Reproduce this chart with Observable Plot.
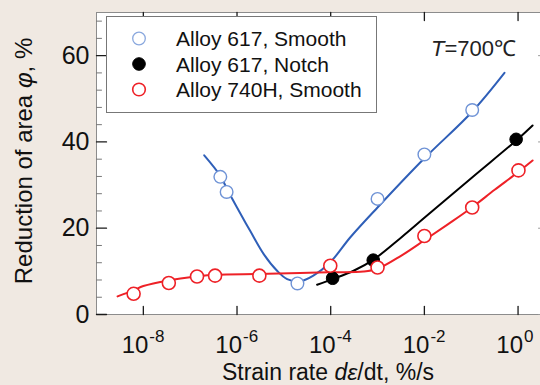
<!DOCTYPE html>
<html>
<head>
<meta charset="utf-8">
<script src="https://cdn.jsdelivr.net/npm/d3@7"></script>
<script src="https://cdn.jsdelivr.net/npm/@observablehq/plot@0.6"></script>
<style>
  html, body { margin: 0; padding: 0; background: #f0e9e2; }
  #wrap { width: 540px; height: 385px; overflow: hidden; position: relative; }
  #wrap svg { display: block; max-width: none !important; }
</style>
</head>
<body>
<div id="wrap"></div>
<script>
// ---------- data (strain rate in %/s, reduction of area in %) ----------
const seriesNames = ["Alloy 617, Smooth", "Alloy 617, Notch", "Alloy 740H, Smooth"];

// measured points
const smooth617Rate = [4.4e-7, 6.0e-7, 1.95e-5, 1e-3, 1e-2, 1.05e-1];
const smooth617RA   = [31.9, 28.4, 7.2, 26.8, 37.1, 47.4];

const notch617Rate = [1.1e-4, 8.1e-4, 0.91];
const notch617RA   = [8.4, 12.6, 40.6];

const smooth740Rate = [6.2e-9, 3.5e-8, 1.4e-7, 3.4e-7, 3.0e-6, 9.8e-5, 1e-3, 1e-2, 1.05e-1, 1.02];
const smooth740RA   = [4.8, 7.3, 8.8, 9.0, 9.0, 11.3, 10.9, 18.2, 24.8, 33.4];

// fitted trend curves (log10 of rate, RA)
const smooth617FitLog = [-6.70, -6.36, -6.20, -6.00, -5.72, -5.43, -5.15, -4.93, -4.65, -4.37, -4.01, -3.58, -3.00, -2.00, -0.98, -0.29];
const smooth617FitRA  = [36.9, 32.2, 28.8, 24.8, 19.4, 14.0, 10.2, 8.2, 7.7, 9.0, 12.1, 17.9, 24.8, 36.2, 47.0, 56.0];

const notch617FitLog = [-4.29, -3.96, -3.50, -3.10, -2.50, -2.00, -1.00, 0.00, 0.31];
const notch617FitRA  = [6.9, 8.2, 10.2, 12.6, 17.8, 22.4, 31.6, 40.7, 43.8];

const smooth740FitLog = [-8.55, -8.21, -8.00, -7.46, -6.86, -6.47, -5.52, -4.65, -4.01, -3.30, -3.00, -2.50, -2.00, -1.50, -1.00, -0.50, 0.00, 0.31];
const smooth740FitRA  = [4.2, 5.6, 6.6, 7.9, 8.8, 9.2, 9.4, 9.6, 9.8, 9.95, 10.6, 13.6, 17.2, 20.9, 24.7, 28.9, 33.0, 35.7];

// axis ticks
const xTickExp = [-8, -6, -4, -2, 0];
const yMajor = [0, 20, 40, 60];
const yMinor = [4, 8, 12, 16, 24, 28, 32, 36, 44, 48, 52, 56, 64, 68];

const colors = { blueLine: "#2f5fb8", blueDot: "#6f93d6", black: "#000000", red: "#ee2127" };

// ---------- build tables ----------
const pts = (xs, ys) => xs.map((x, i) => ({ x, y: ys[i] }));
const fit = (ls, ys) => ls.map((l, i) => ({ x: Math.pow(10, l), y: ys[i] }));

const s617 = pts(smooth617Rate, smooth617RA);
const n617 = pts(notch617Rate, notch617RA);
const s740 = pts(smooth740Rate, smooth740RA);
const s617f = fit(smooth617FitLog, smooth617FitRA);
const n617f = fit(notch617FitLog, notch617FitRA);
const s740f = fit(smooth740FitLog, smooth740FitRA);
const xTicks = xTickExp.map(e => Math.pow(10, e));

const tickShape = { draw(ctx, l) { ctx.moveTo(0, 0); ctx.lineTo(0, -l); } };

const font = "'Liberation Sans', Arial, Helvetica, sans-serif";

const chart = Plot.plot({
  width: 550,
  height: 385,
  marginLeft: 96,
  marginRight: 2,
  marginTop: 12,
  marginBottom: 71,
  style: { background: "transparent", fontFamily: font, overflow: "visible", maxWidth: "none" },
  x: { type: "log", domain: [1e-9, Math.pow(10, 0.65)], axis: null },
  y: { domain: [0, 70], axis: null },
  marks: [
    Plot.frame({ fill: "white", stroke: "#8c8c8c", strokeWidth: 1 }),
    // ticks (inward)
    Plot.vector(yMajor, { y: d => d, frameAnchor: "left", length: 10, rotate: 90, anchor: "start", shape: tickShape, stroke: "#1a1a1a", strokeWidth: 1.3 }),
    Plot.vector(yMinor, { y: d => d, frameAnchor: "left", length: 5, rotate: 90, anchor: "start", shape: tickShape, stroke: "#777", strokeWidth: 1 }),
    Plot.vector(yMajor, { y: d => d, frameAnchor: "right", length: 10, rotate: 270, anchor: "start", shape: tickShape, stroke: "#999", strokeWidth: 1 }),
    Plot.vector(xTicks, { x: d => d, frameAnchor: "bottom", length: 8, rotate: 0, anchor: "start", shape: tickShape, stroke: "#1a1a1a", strokeWidth: 1.3 }),
    Plot.vector(xTicks, { x: d => d, frameAnchor: "top", length: 8, rotate: 180, anchor: "start", shape: tickShape, stroke: "#1a1a1a", strokeWidth: 1.3 }),
    // tick labels
    Plot.text(yMajor, { y: d => d, frameAnchor: "left", dx: -7, text: d => String(d), textAnchor: "end", lineAnchor: "middle", fontSize: 25, fill: "#111" }),
    Plot.text(xTicks, { x: d => d, frameAnchor: "bottom", dx: 5, dy: 38, text: () => "10", textAnchor: "end", lineAnchor: "bottom", fontSize: 24, fill: "#111" }),
    Plot.text(xTickExp, { x: d => Math.pow(10, d), frameAnchor: "bottom", dx: 6, dy: 27, text: d => d === 0 ? "0" : "-" + Math.abs(d), textAnchor: "start", lineAnchor: "bottom", fontSize: 17, fill: "#111" }),
    // fitted lines
    Plot.line(s617f, { x: "x", y: "y", curve: "catmull-rom", stroke: colors.blueLine, strokeWidth: 2 }),
    Plot.line(n617f, { x: "x", y: "y", curve: "catmull-rom", stroke: colors.black, strokeWidth: 2 }),
    Plot.line(s740f, { x: "x", y: "y", curve: "catmull-rom", stroke: colors.red, strokeWidth: 2 }),
    // measured points
    Plot.dot(s617, { x: "x", y: "y", r: 6.3, fill: "white", stroke: colors.blueDot, strokeWidth: 1.4 }),
    Plot.dot(n617, { x: "x", y: "y", r: 6.3, fill: colors.black, stroke: colors.black, strokeWidth: 1 }),
    Plot.dot(s740, { x: "x", y: "y", r: 6.5, fill: "white", stroke: colors.red, strokeWidth: 1.6 })
  ]
});

document.getElementById("wrap").appendChild(chart);

// ---------- labels, legend and annotation ----------
const svg = d3.select(chart);

// y label
const yl = svg.append("text")
  .attr("transform", "translate(32,161) rotate(-90)")
  .attr("text-anchor", "middle")
  .style("font-family", font).style("font-size", "24px").attr("fill", "#111");
yl.append("tspan").text("Reduction of area ");
yl.append("tspan").attr("font-style", "italic").text("φ");
yl.append("tspan").text(", %");

// x label
const xl = svg.append("text")
  .attr("x", 328).attr("y", 380)
  .attr("text-anchor", "middle")
  .style("font-family", font).style("font-size", "23px").attr("fill", "#111");
xl.append("tspan").text("Strain rate ");
xl.append("tspan").attr("font-style", "italic").text("dε");
xl.append("tspan").text("/dt, %/s");

// annotation
const ann = svg.append("text")
  .attr("x", 431).attr("y", 56)
  .attr("text-anchor", "start")
  .style("font-family", font).style("font-size", "22px").attr("fill", "#222");
ann.append("tspan").attr("font-style", "italic").text("T");
ann.append("tspan").text("=700℃");

// legend
const lg = svg.append("g").attr("text-anchor", "start");
lg.append("rect").attr("x", 106.5).attr("y", 16.5).attr("width", 270).attr("height", 96)
  .attr("fill", "white").attr("stroke", "#777").attr("stroke-width", 1);
const legendStyle = [
  { fill: "white", stroke: "#8aa8de", sw: 1.3 },
  { fill: "#000", stroke: "#000", sw: 1 },
  { fill: "white", stroke: colors.red, sw: 1.6 }
];
seriesNames.forEach((name, i) => {
  const cy = 38.5 + i * 25.5;
  lg.append("circle").attr("cx", 139).attr("cy", cy).attr("r", 6.3)
    .attr("fill", legendStyle[i].fill).attr("stroke", legendStyle[i].stroke).attr("stroke-width", legendStyle[i].sw);
  lg.append("text").attr("x", 176).attr("y", cy + 7.5).attr("text-anchor", "start")
    .style("font-family", font).style("font-size", "21px").attr("fill", "#111").text(name);
});
</script>
</body>
</html>
